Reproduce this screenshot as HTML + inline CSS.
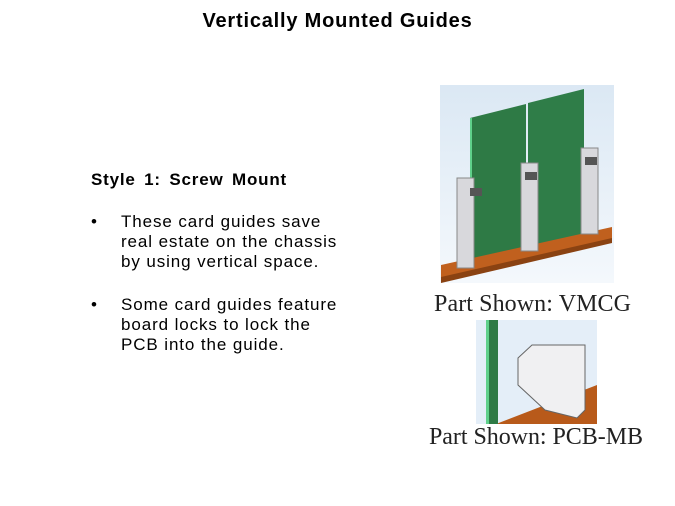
<!DOCTYPE html>
<html><head><style>
body{margin:0;width:675px;height:506px;background:#fff;position:relative;overflow:hidden;font-family:"Liberation Sans",sans-serif;}
.t{position:absolute;white-space:nowrap;color:#000;}
.b{font-size:17px;line-height:20px;letter-spacing:0.9px;}
</style></head><body>
<div class="t" style="left:0;width:675px;text-align:center;top:10px;font-size:20px;font-weight:bold;letter-spacing:0.8px;">Vertically Mounted Guides</div>
<div class="t" style="left:91px;top:170px;font-size:17px;font-weight:bold;letter-spacing:0.8px;word-spacing:3px;">Style 1: Screw Mount</div>
<div class="t b" style="left:91px;top:212px;">•</div>
<div class="t b" style="left:121px;top:212px;">These card guides save<br>real estate on the chassis<br>by using vertical space.</div>
<div class="t b" style="left:91px;top:295px;">•</div>
<div class="t b" style="left:121px;top:295px;">Some card guides feature<br>board locks to lock the<br>PCB into the guide.</div>

<svg style="position:absolute;left:0;top:0" width="675" height="506">
<defs><linearGradient id="bg" x1="0" y1="0" x2="0" y2="1"><stop offset="0" stop-color="#dbe8f4"/><stop offset="1" stop-color="#f4f8fc"/></linearGradient></defs>
<rect x="440" y="85" width="174" height="198" fill="url(#bg)"/>
<polygon points="470,118 526,104 526,263 470,270" fill="#2e7a45"/>
<polygon points="528,103 584,89 584,247 528,262" fill="#2f7d48"/>
<line x1="471" y1="118" x2="471" y2="270" stroke="#5fd08a" stroke-width="2"/>
<polygon points="441,265 612,227 612,240 441,280" fill="#c0601e"/>
<polygon points="441,277 612,238 612,243 441,283" fill="#8a4212"/>
<rect x="457" y="178" width="17" height="90" fill="#d8d8dc" stroke="#888" stroke-width="1"/>
<rect x="470" y="188" width="12" height="8" fill="#555"/>
<rect x="521" y="163" width="17" height="88" fill="#d8d8dc" stroke="#888" stroke-width="1"/>
<rect x="525" y="172" width="12" height="8" fill="#555"/>
<rect x="581" y="148" width="17" height="86" fill="#d8d8dc" stroke="#888" stroke-width="1"/>
<rect x="585" y="157" width="12" height="8" fill="#555"/>
<text x="434" y="311" font-family="Liberation Serif,serif" font-size="24" fill="#222" textLength="197">Part Shown: VMCG</text>
<rect x="476" y="320" width="121" height="104" fill="#e4eef8"/>
<polygon points="496,424 597,385 597,424" fill="#b85a1a"/>
<rect x="486" y="320" width="12" height="104" fill="#2e7a45"/>
<rect x="486" y="320" width="3" height="104" fill="#5fd08a"/>
<polygon points="518,358 532,345 585,345 585,410 577,418 545,410 518,385" fill="#f0f0f2" stroke="#666"/>
<text x="429" y="444" font-family="Liberation Serif,serif" font-size="24" fill="#222" textLength="214">Part Shown: PCB-MB</text>
</svg>
</body></html>
